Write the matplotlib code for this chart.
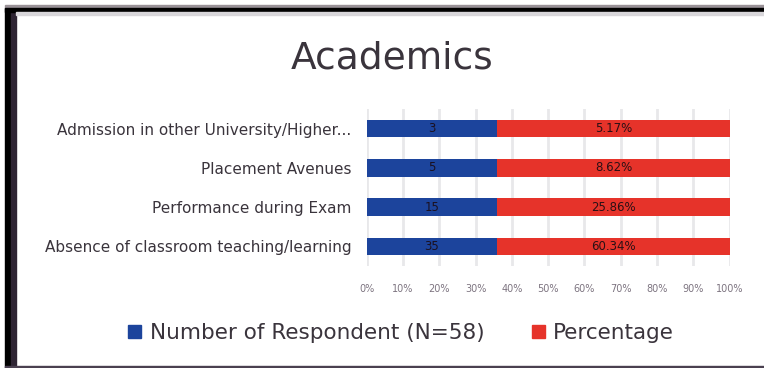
import matplotlib.pyplot as plt
from matplotlib.patches import Rectangle

# ---------- Data ----------
categories = [
    "Absence of classroom teaching/learning",
    "Performance during Exam",
    "Placement Avenues",
    "Admission in other University/Higher...",
]
respondents = [35, 15, 5, 3]
percentages = [60.34, 25.86, 8.62, 5.17]
# share of each bar taken by the respondent segment (100% stacked)
respondent_share = [36, 36, 36, 36]
percent_share = [100 - s for s in respondent_share]
xticks = list(range(0, 101, 10))

BLUE = "#1c449c"
RED = "#e6332a"
TEXT = "#3a343c"

# ---------- Figure ----------
fig = plt.figure(figsize=(7.64, 3.68), dpi=100)
ax = fig.add_axes([0.480, 0.277, 0.475, 0.427])

y = range(len(categories))
ax.barh(y, respondent_share, height=0.45, color=BLUE, zorder=3)
ax.barh(y, percent_share, left=respondent_share, height=0.45, color=RED, zorder=3)

for i in y:
    ax.text(respondent_share[i] / 2, i, str(respondents[i]), ha="center", va="center",
            fontsize=8.5, color="#1a1020", zorder=4)
    ax.text(respondent_share[i] + percent_share[i] / 2, i, f"{percentages[i]:.2f}%",
            ha="center", va="center", fontsize=8.5, color="#2a1015", zorder=4)

ax.set_xlim(0, 100)
ax.set_ylim(-0.5, len(categories) - 0.5)
ax.set_xticks(xticks)
ax.set_xticklabels([f"{t}%" for t in xticks], fontsize=7, color="#7d7480")
ax.set_yticks(list(y))
ax.set_yticklabels(categories, fontsize=11, color=TEXT)
ax.tick_params(length=0, pad=11)
ax.tick_params(axis="x", pad=13)
ax.grid(axis="x", color="#e8e8ea", linewidth=2, zorder=0)
for s in ax.spines.values():
    s.set_visible(False)

fig.text(0.513, 0.842, "Academics", ha="center", va="center", fontsize=27, color=TEXT)

# legend
handles = [Rectangle((0, 0), 1, 1, color=BLUE), Rectangle((0, 0), 1, 1, color=RED)]
fig.legend(handles, ["Number of Respondent (N=58)", "Percentage"], loc="center",
           bbox_to_anchor=(0.525, 0.095), ncol=2, frameon=False, fontsize=15.5,
           handlelength=0.6, handleheight=0.6, handletextpad=0.4, columnspacing=2.2,
           labelcolor=TEXT)

# chart frame
fig.patches.append(Rectangle((5 / 764, 0), 6 / 764, 1 - 8 / 368, transform=fig.transFigure,
                             color="#000000", zorder=10))
fig.patches.append(Rectangle((11 / 764, 0), 5 / 764, 1 - 12 / 368, transform=fig.transFigure,
                             color="#2e2433", zorder=10))
fig.patches.append(Rectangle((5 / 764, 1 - 8 / 368), 1, 3 / 368, transform=fig.transFigure,
                             color="#9a9298", zorder=10))
fig.patches.append(Rectangle((5 / 764, 1 - 12 / 368), 1, 4 / 368, transform=fig.transFigure,
                             color="#000000", zorder=10))
fig.patches.append(Rectangle((16 / 764, 1 - 15 / 368), 1, 3 / 368, transform=fig.transFigure,
                             color="#d8d6da", zorder=10))
fig.patches.append(Rectangle((5 / 764, 0), 1, 2 / 368, transform=fig.transFigure,
                             color="#4a4050", zorder=10))

fig.savefig("out.png", dpi=100)
